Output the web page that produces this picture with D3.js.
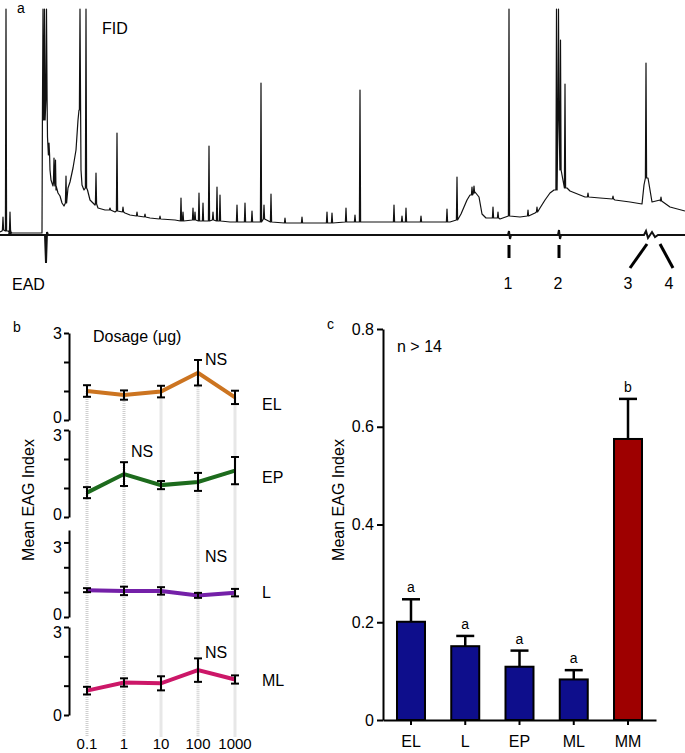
<!DOCTYPE html>
<html>
<head>
<meta charset="utf-8">
<script src="https://cdn.jsdelivr.net/npm/d3@7"></script>
<style>
body { margin: 0; background: #fff; }
svg { display: block; font-family: "Liberation Sans", Arial, sans-serif; }
</style>
</head>
<body>
<svg width="685" height="753"></svg>
<script>
//Figure: GC-EAD trace (a), dose response (b) and mean EAG bars (c)

//---- panel a data, retention time (min) and detector response ----
//FID baseline, [rt, signal]
var fidBaseline = [
  [0, 1.5], [0.2, 2], [0.8, 2], [1.2, 1], [4.2, 1], [4.75, 49], [5.0, 32.5], [5.1, 27.5],
  [5.3, 24.5], [5.6, 22.5], [5.8, 21], [6.0, 19.5], [6.2, 16], [6.4, 14.5], [6.8, 23.5],
  [7.0, 26.5], [7.3, 33.5], [7.6, 42.5], [7.8, 57.5], [7.9, 62.5], [8.1, 32.5], [8.2, 25],
  [8.4, 22.5], [8.75, 22.5], [9.0, 17.5], [9.3, 16], [9.5, 15], [9.8, 13.5], [10.5, 12.5],
  [11.5, 11.5], [12.5, 11], [13.0, 10], [15.0, 8.5], [17.5, 7.5], [20.0, 7], [23.0, 6.5],
  [30.0, 6], [40.0, 6.5], [45.0, 6.5], [46.1, 10.5], [46.4, 14], [46.7, 17.5], [47.0, 20],
  [47.5, 21.5], [47.9, 19], [48.2, 10.5], [48.6, 8.5], [50.0, 8], [52.0, 9], [53.5, 11],
  [54.0, 13.5], [54.5, 17.5], [55.0, 21], [55.4, 22.5], [56.7, 23.5], [57.0, 22], [58.5, 19],
  [60.0, 18.5], [61.5, 17.5], [63.0, 16.5], [64.2, 15.5], [64.4, 25], [64.8, 28.5],
  [65.0, 22.5], [65.2, 16.5], [66.0, 17.5], [67.0, 14], [68.5, 12]
];

//FID peaks, [rt, base, apex]
var fidPeaks = [
  [0.3, 2.5, 9], [0.6, 2, 113], [1.0, 1.5, 11.5], [4.3, 57.5, 113], [4.45, 57.5, 113],
  [4.65, 67.5, 113], [4.9, 40, 46], [5.4, 26, 38.5], [5.55, 24.5, 37.5], [6.6, 16, 29.5],
  [8.0, 62.5, 113], [8.6, 23.5, 113], [9.6, 15.5, 31], [11.0, 12.5, 13.5], [11.7, 12, 51],
  [12.3, 11.5, 14], [13.7, 9.5, 11.5], [14.5, 9, 10.5], [16.0, 8, 9.5], [18.1, 7, 18.5],
  [18.3, 7, 11.5], [19.3, 7.5, 13.5], [19.5, 7.5, 11.5], [19.9, 7, 21], [20.3, 7, 16],
  [20.9, 7, 44.5], [21.3, 7.5, 11.5], [21.7, 7, 24], [22.0, 7, 20], [23.7, 6.5, 15],
  [24.5, 6.5, 16], [25.2, 6.5, 12], [26.1, 6.5, 76], [26.4, 8, 15], [27.1, 6.5, 20.5],
  [28.5, 6, 8.5], [30.2, 6, 9], [32.7, 6, 11.5], [33.2, 6, 11], [34.6, 6.5, 13.5],
  [35.5, 6.5, 10], [36.0, 6.5, 72.5], [39.4, 6.5, 15], [40.2, 6.5, 9.5], [40.6, 6.5, 13.5],
  [42.1, 6.5, 9.5], [44.7, 6.5, 13], [45.7, 7.5, 29], [47.2, 20, 24], [47.4, 21, 24.5],
  [49.3, 8.5, 14], [49.8, 8.5, 11.5], [50.9, 9.5, 113], [52.8, 9.5, 12.5], [53.7, 11.5, 14],
  [55.65, 22.5, 113], [55.85, 57.5, 113], [56.05, 32.5, 97.5], [56.5, 23.5, 75.5],
  [58.8, 19, 21], [61.3, 18, 19.5], [64.6, 28.5, 86], [66.1, 17, 19]
];

//EAD trace, [rt, mV]
var eadTrace = [
  [0, 0], [0.9, 0], [1.0, 0.5], [1.1, 0], [4.5, 0], [4.6, -2.8], [4.7, 0.3], [4.8, 0],
  [50.8, 0], [50.9, 0.4], [51.0, -0.4], [51.1, 0], [55.8, 0], [55.9, 0.5], [56.0, -0.4],
  [56.1, 0], [64.4, 0], [64.6, 0.4], [64.8, -0.3], [65.2, 0.3], [65.5, -0.2], [65.8, 0], [68.5, 0]
];

//EAD active compounds
var activeRt = [50.9, 55.9, 64.7, 66.0];
var activeLabels = ["1", "2", "3", "4"];

//---- panel b data ----
var doses = [0.1, 1, 10, 100, 1000];
var doseLabels = ["0.1", "1", "10", "100", "1000"];
var seriesNames = ["EL", "EP", "L", "ML"];
var elMean = [1.0, 0.86, 0.98, 1.63, 0.78];
var elErr = [0.2, 0.16, 0.2, 0.44, 0.23];
var epMean = [0.84, 1.48, 1.1, 1.21, 1.6];
var epErr = [0.19, 0.41, 0.14, 0.31, 0.47];
var lMean = [1.08, 1.05, 1.05, 0.87, 0.98];
var lErr = [0.08, 0.17, 0.15, 0.1, 0.15];
var mlMean = [0.83, 1.11, 1.08, 1.53, 1.21];
var mlErr = [0.13, 0.14, 0.24, 0.4, 0.14];

//---- panel c data ----
var barNames = ["EL", "L", "EP", "ML", "MM"];
var barMeans = [0.201, 0.151, 0.109, 0.083, 0.575];
var barErr = [0.046, 0.021, 0.033, 0.019, 0.082];
var barLetters = ["a", "a", "a", "a", "b"];
var cTicks = [0, 0.2, 0.4, 0.6, 0.8];


var svg = d3.select("svg");
var font = "Liberation Sans, Arial, sans-serif";

function label(x, y, txt, size, anchor) {
  return svg.append("text")
    .attr("x", x).attr("y", y)
    .attr("font-size", size)
    .attr("text-anchor", anchor || "start")
    .text(txt);
}

//==================== panel a ====================
var rtX = d3.scaleLinear().domain([0, 68.5]).range([0, 685]);
var fidY = d3.scaleLinear().domain([0, 115]).range([235, 5]);
var eadY = d3.scaleLinear().domain([-3, 1]).range([265, 225]);

//merge baseline knots and peak spikes into one trace
var fidPts = fidBaseline.map(function(d) { return [d[0], d[1]]; });
fidPeaks.forEach(function(p) {
  fidPts.push([p[0] - 0.06, p[1]], [p[0], p[2]], [p[0] + 0.06, p[1]]);
});
fidPts.sort(function(a, b) { return a[0] - b[0]; });

var fidLine = d3.line()
  .x(function(d) { return rtX(d[0]); })
  .y(function(d) { return fidY(d[1]); });

var eadLine = d3.line()
  .x(function(d) { return rtX(d[0]); })
  .y(function(d) { return eadY(d[1]); });

svg.append("path")
  .datum(eadTrace)
  .attr("d", eadLine)
  .attr("fill", "none")
  .attr("stroke", "#111")
  .attr("stroke-width", 2);

svg.append("path")
  .datum(fidPts)
  .attr("d", fidLine)
  .attr("fill", "none")
  .attr("stroke", "#111")
  .attr("stroke-width", 1.2)
  .attr("stroke-linejoin", "round");

//markers for the active peaks: straight for 1 and 2, slanted for 3 and 4
var slant = [0, 0, -17, 13];
activeRt.forEach(function(rt, i) {
  var x0 = rtX(rt);
  svg.append("line")
    .attr("x1", x0).attr("y1", slant[i] ? 244 : 245)
    .attr("x2", x0 + slant[i]).attr("y2", slant[i] ? 268 : 258)
    .attr("stroke", "#000")
    .attr("stroke-width", 3);
  label(x0 + slant[i] + (slant[i] < 0 ? -2 : slant[i] > 0 ? -4 : -1), 289, activeLabels[i], 16, "middle");
});

label(17, 13, "a", 14);
label(102, 34, "FID", 16);
label(12, 290, "EAD", 16);

//==================== panel b ====================
var doseX = d3.scaleLog().domain([0.1, 1000]).range([87, 235]);
var bAxisX = 69;

var bSeries = [
  { name: "EL", mean: elMean, err: elErr, color: "#cc7420", top: 333, bottom: 420, max: 3, ns: 100, nsVal: 1.9, labY: 410 },
  { name: "EP", mean: epMean, err: epErr, color: "#1d6b1d", top: 430, bottom: 517, max: 3, ns: 1, nsVal: 2.07, labY: 483 },
  { name: "L", mean: lMean, err: lErr, color: "#7420a8", top: 530, bottom: 617, max: 3.5, ns: 100, nsVal: 2.2, labY: 598 },
  { name: "ML", mean: mlMean, err: mlErr, color: "#cc1768", top: 627, bottom: 715, max: 3, ns: 100, nsVal: 1.95, labY: 686 }
];
bSeries.forEach(function(s) {
  s.y = d3.scaleLinear().domain([0, s.max]).range([s.bottom, s.top]);
});

//dotted dose guides, hanging from the top series down to the dose labels
svg.append("g")
  .selectAll("line")
  .data(doses)
  .enter().append("line")
  .attr("x1", function(d) { return doseX(d); })
  .attr("x2", function(d) { return doseX(d); })
  .attr("y1", function(d, i) { return bSeries[0].y(elMean[i]); })
  .attr("y2", 737)
  .attr("stroke", "#cfcfcf")
  .attr("stroke-width", 3)
  .attr("stroke-dasharray", "1,1");

bSeries.forEach(function(s, k) {
  var axis = d3.axisLeft(s.y)
    .tickValues([0, 1, 2, 3])
    .tickSize(5)
    .tickSizeOuter(0)
    .tickPadding(2)
    .tickFormat(function(d) { return (d === 0 || d === 3) ? d : ""; });

  var g = svg.append("g")
    .attr("transform", "translate(" + bAxisX + ",0)")
    .call(axis);
  g.attr("font-size", 16).attr("font-family", font);
  g.selectAll("path, line").attr("stroke", "#000").attr("stroke-width", 2);
  g.selectAll("text").attr("fill", "#000");
  //stacked panels: nudge the touching 0 / 3 labels apart like the original
  g.selectAll(".tick text")
    .attr("transform", function(d) {
      if (d === 0 && k < 3) return "translate(0,-3)";
      if (d === 3 && k > 0) return "translate(0,5)";
      return null;
    });

  var pts = doses.map(function(d, i) { return { dose: d, m: s.mean[i], e: s.err[i] }; });

  svg.append("path")
    .datum(pts)
    .attr("d", d3.line()
      .x(function(d) { return doseX(d.dose); })
      .y(function(d) { return s.y(d.m); }))
    .attr("fill", "none")
    .attr("stroke", s.color)
    .attr("stroke-width", 4);

  //error bars
  var eb = svg.append("g").selectAll("g").data(pts).enter().append("g");
  eb.append("line")
    .attr("x1", function(d) { return doseX(d.dose); })
    .attr("x2", function(d) { return doseX(d.dose); })
    .attr("y1", function(d) { return s.y(d.m - d.e); })
    .attr("y2", function(d) { return s.y(d.m + d.e); });
  eb.append("line")
    .attr("x1", function(d) { return doseX(d.dose) - 4; })
    .attr("x2", function(d) { return doseX(d.dose) + 4; })
    .attr("y1", function(d) { return s.y(d.m + d.e); })
    .attr("y2", function(d) { return s.y(d.m + d.e); });
  eb.append("line")
    .attr("x1", function(d) { return doseX(d.dose) - 4; })
    .attr("x2", function(d) { return doseX(d.dose) + 4; })
    .attr("y1", function(d) { return s.y(d.m - d.e); })
    .attr("y2", function(d) { return s.y(d.m - d.e); });
  eb.selectAll("line").attr("stroke", "#000").attr("stroke-width", 2);

  label(doseX(s.ns) + 7, s.y(s.nsVal), "NS", 16);
  label(262, s.labY, seriesNames[k], 16);
});

//dose tick labels
svg.append("g")
  .selectAll("text")
  .data(doses)
  .enter().append("text")
  .attr("x", function(d) { return doseX(d); })
  .attr("y", 749)
  .attr("font-size", 15)
  .attr("text-anchor", "middle")
  .text(function(d, i) { return doseLabels[i]; });

label(13, 332, "b", 14);
label(93, 342, "Dosage (\u03bcg)", 16);

svg.append("text")
  .attr("transform", "translate(34,500) rotate(-90)")
  .attr("font-size", 16)
  .attr("text-anchor", "middle")
  .text("Mean EAG Index");

//==================== panel c ====================
var cX = d3.scaleBand()
  .domain(barNames)
  .range([383, 656])
  .paddingInner(0.484)
  .paddingOuter(0.258);
var cY = d3.scaleLinear().domain([0, 0.8]).range([720, 329]);

var barData = barNames.map(function(n, i) {
  return { name: n, m: barMeans[i], e: barErr[i], letter: barLetters[i] };
});

//error bars (upper only) go behind the bars
var cErr = svg.append("g").selectAll("g").data(barData).enter().append("g");
cErr.append("line")
  .attr("x1", function(d) { return cX(d.name) + cX.bandwidth() / 2; })
  .attr("x2", function(d) { return cX(d.name) + cX.bandwidth() / 2; })
  .attr("y1", function(d) { return cY(d.m); })
  .attr("y2", function(d) { return cY(d.m + d.e); });
cErr.append("line")
  .attr("x1", function(d) { return cX(d.name) + cX.bandwidth() / 2 - 9; })
  .attr("x2", function(d) { return cX(d.name) + cX.bandwidth() / 2 + 9; })
  .attr("y1", function(d) { return cY(d.m + d.e); })
  .attr("y2", function(d) { return cY(d.m + d.e); });
cErr.selectAll("line").attr("stroke", "#000").attr("stroke-width", 2.5);

svg.append("g")
  .selectAll("rect")
  .data(barData)
  .enter().append("rect")
  .attr("x", function(d) { return cX(d.name); })
  .attr("y", function(d) { return cY(d.m); })
  .attr("width", cX.bandwidth())
  .attr("height", function(d) { return cY(0) - cY(d.m); })
  .attr("fill", function(d) { return d.name === "MM" ? "#9e0000" : "#0e0e8c"; })
  .attr("stroke", "#000")
  .attr("stroke-width", 2);

svg.append("g")
  .selectAll("text")
  .data(barData)
  .enter().append("text")
  .attr("x", function(d) { return cX(d.name) + cX.bandwidth() / 2; })
  .attr("y", function(d) { return cY(d.m + d.e) - 7; })
  .attr("font-size", 14)
  .attr("text-anchor", "middle")
  .text(function(d) { return d.letter; });

var cyAxis = svg.append("g")
  .attr("transform", "translate(383,0)")
  .call(d3.axisLeft(cY)
    .tickValues(cTicks)
    .tickSize(6)
    .tickSizeOuter(0)
    .tickPadding(3)
    .tickFormat(function(d) { return d === 0 ? "0" : d3.format(".1f")(d); }));

var cxAxis = svg.append("g")
  .attr("transform", "translate(0,720)")
  .call(d3.axisBottom(cX).tickSize(5).tickSizeOuter(0).tickPadding(11));

[cyAxis, cxAxis].forEach(function(g) {
  g.attr("font-size", 16).attr("font-family", font);
  g.selectAll("path, line").attr("stroke", "#000").attr("stroke-width", 2);
  g.selectAll("text").attr("fill", "#000");
});

label(327, 329, "c", 14);
label(397, 352, "n > 14", 16);

svg.append("text")
  .attr("transform", "translate(344,500) rotate(-90)")
  .attr("font-size", 16)
  .attr("text-anchor", "middle")
  .text("Mean EAG Index");
</script>
</body>
</html>
